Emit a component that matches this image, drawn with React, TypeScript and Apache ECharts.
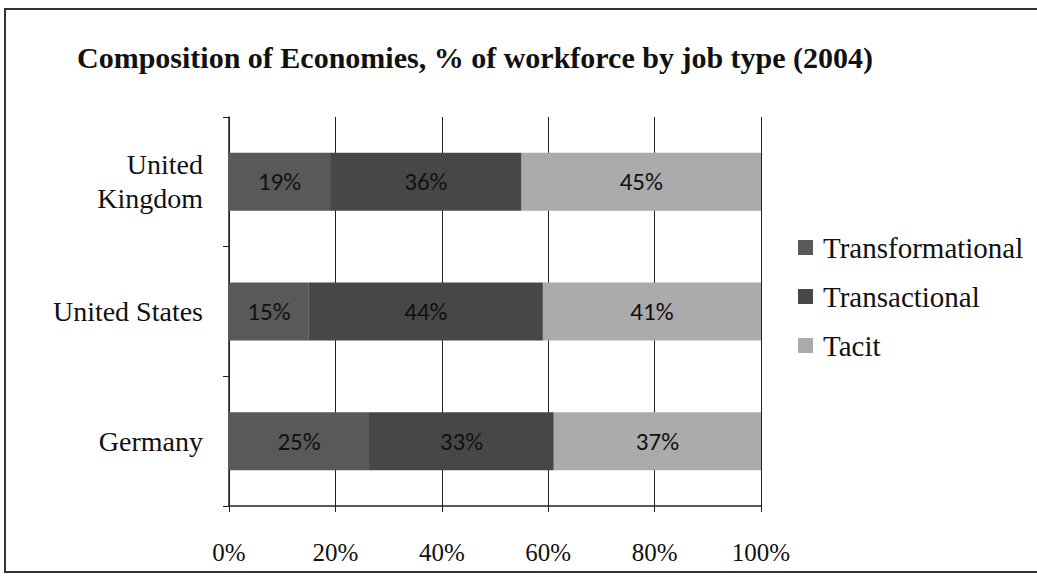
import React, { useEffect, useRef } from "react";
import * as echarts from "echarts";

const categories = ["Germany", "United States", "United Kingdom"];
const categoryLabels = ["Germany", "United States", "United\nKingdom"];
const transformational = [25, 15, 19];
const transactional = [33, 44, 36];
const tacit = [37, 41, 45];
const seriesNames = ["Transformational", "Transactional", "Tacit"];
const seriesColors = ["#595959", "#474747", "#ababab"];
const xTicks = [0, 20, 40, 60, 80, 100];

const serif = "'Liberation Serif', 'DejaVu Serif', serif";

export default function App() {
  const ref = useRef<HTMLDivElement>(null);
  useEffect(() => {
    const chart = echarts.init(ref.current!, null, { renderer: "svg" });
    const raw = [transformational, transactional, tacit];
    const totals = categories.map((_, i) => raw.reduce((s, r) => s + r[i], 0));
    const series = raw.map((vals, si) => ({
      name: seriesNames[si],
      type: "bar",
      stack: "total",
      barWidth: 58,
      itemStyle: { color: seriesColors[si] },
      label: {
        show: true,
        position: "inside",
        formatter: (p: any) => vals[p.dataIndex] + "%",
        color: "#111",
        fontFamily: "Carlito, Lato, 'Noto Sans', sans-serif",
        fontSize: 25,
      },
      data: vals.map((v, i) => (v / totals[i]) * 100),
    }));
    chart.setOption({
      animation: false,
      backgroundColor: "#fff",
      title: {
        text: "Composition of Economies, % of workforce by job type (2004)",
        left: 72,
        top: 37,
        textStyle: { fontFamily: serif, fontWeight: "bold", fontSize: 30, color: "#111" },
      },
      graphic: [
        {
          type: "rect",
          shape: { x: 5, y: 9, width: 1040, height: 563 },
          style: { fill: "none", stroke: "#333", lineWidth: 2 },
          silent: true,
        },
      ],
      legend: {
        orient: "vertical",
        left: 793,
        top: 228,
        itemWidth: 15,
        itemHeight: 15,
        itemGap: 20,
        icon: "rect",
        textStyle: { fontFamily: serif, fontSize: 29, color: "#111", padding: [0, 0, 0, 5] },
        data: seriesNames,
      },
      grid: { left: 229, right: 276, top: 117, bottom: 71, containLabel: false },
      xAxis: {
        type: "value",
        min: 0,
        max: 100,
        interval: 20,
        axisLine: { show: true, lineStyle: { color: "#222", width: 1.5 } },
        axisTick: { show: true, length: 6, lineStyle: { color: "#222" } },
        splitLine: { show: true, lineStyle: { color: "#222", width: 1 } },
        axisLabel: {
          formatter: (v: number) => (xTicks.includes(v) ? v + "%" : ""),
          fontFamily: serif,
          fontSize: 25,
          color: "#111",
          margin: 34,
        },
      },
      yAxis: {
        type: "category",
        data: categoryLabels,
        axisLine: { show: true, lineStyle: { color: "#222", width: 1.5 } },
        axisTick: { show: true, length: 6, lineStyle: { color: "#222" } },
        axisLabel: {
          fontFamily: serif,
          fontSize: 28,
          color: "#111",
          margin: 26,
          lineHeight: 34,
          align: "right",
        },
      },
      series,
    });
    return () => chart.dispose();
  }, []);
  return (
    <div
      ref={ref}
      style={{ position: "absolute", left: 0, top: 0, width: 1037, height: 577 }}
    />
  );
}
